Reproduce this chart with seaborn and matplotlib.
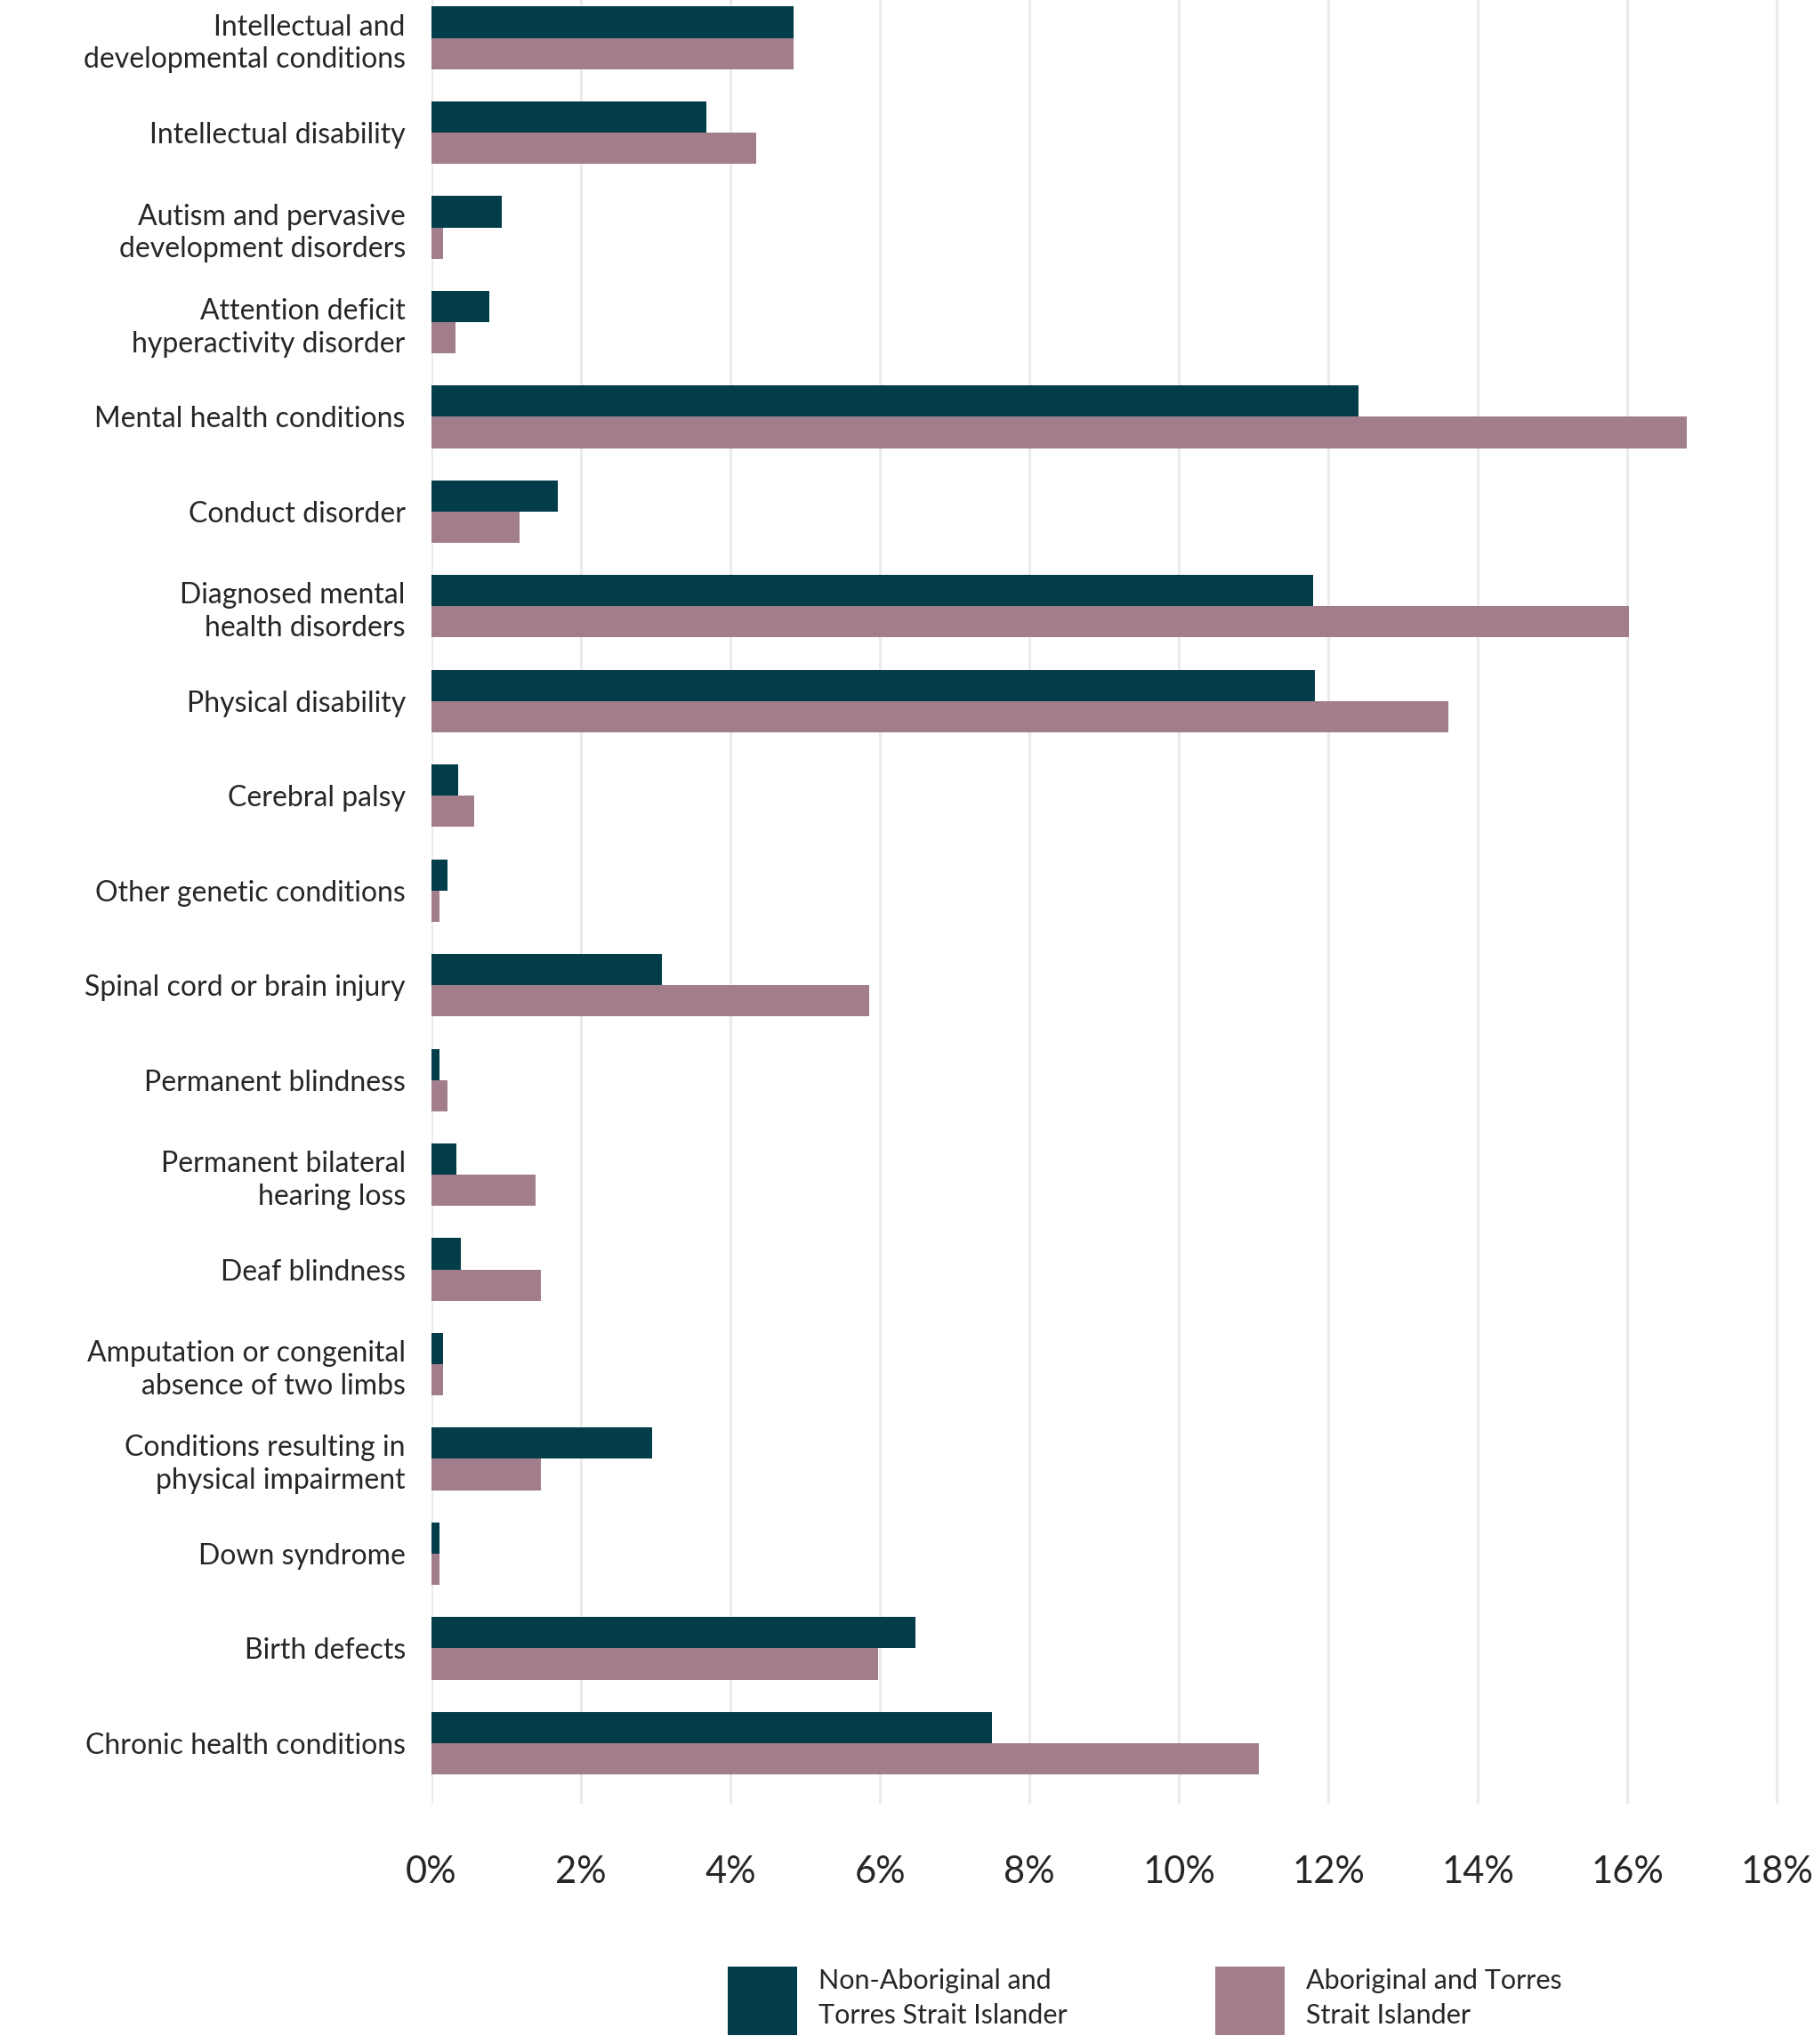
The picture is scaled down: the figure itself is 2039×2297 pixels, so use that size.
import matplotlib
matplotlib.use("Agg")
import matplotlib.pyplot as plt
import seaborn as sns
import pandas as pd
from matplotlib.patches import Patch

categories = [
    "Intellectual and\ndevelopmental conditions",
    "Intellectual disability",
    "Autism and pervasive\ndevelopment disorders",
    "Attention deficit\nhyperactivity disorder",
    "Mental health conditions",
    "Conduct disorder",
    "Diagnosed mental\nhealth disorders",
    "Physical disability",
    "Cerebral palsy",
    "Other genetic conditions",
    "Spinal cord or brain injury",
    "Permanent blindness",
    "Permanent bilateral\nhearing loss",
    "Deaf blindness",
    "Amputation or congenital\nabsence of two limbs",
    "Conditions resulting in\nphysical impairment",
    "Down syndrome",
    "Birth defects",
    "Chronic health conditions",
]
non_aboriginal = [4.85, 3.68, 0.94, 0.77, 12.40, 1.69, 11.80, 11.82, 0.36, 0.21,
                  3.08, 0.11, 0.33, 0.39, 0.16, 2.95, 0.11, 6.48, 7.50]
aboriginal = [4.85, 4.35, 0.15, 0.32, 16.80, 1.18, 16.02, 13.60, 0.57, 0.11,
              5.85, 0.21, 1.39, 1.46, 0.16, 1.46, 0.11, 5.98, 11.07]
series_names = ["Non-Aboriginal and\nTorres Strait Islander",
                "Aboriginal and Torres\nStrait Islander"]
colors = ["#033d4a", "#a27e8c"]
xticks = [0, 2, 4, 6, 8, 10, 12, 14, 16, 18]
xtick_labels = [f"{t}%" for t in xticks]

df = pd.DataFrame({
    "condition": categories * 2,
    "value": non_aboriginal + aboriginal,
    "group": [series_names[0]] * len(categories) + [series_names[1]] * len(categories),
})

sns.set_theme(style="white")
plt.rcParams["font.family"] = ["Lato", "DejaVu Sans"]

fig = plt.figure(figsize=(20.4, 22.97), dpi=100)
ax = fig.add_axes([485 / 2040, 1 - 2027 / 2297, (1999 - 485) / 2040, 2027 / 2297])

sns.barplot(data=df, y="condition", x="value", hue="group", hue_order=series_names,
            palette=colors, orient="h", width=0.66, saturation=1, linewidth=0,
            legend=False, ax=ax)

ax.set_xlim(0, 18.02)
ax.set_ylim(18.64, -0.4)
ax.set_xticks(xticks)
ax.set_xticklabels(xtick_labels, fontsize=30)
ax.tick_params(axis="x", length=0, pad=42)
ax.tick_params(axis="y", length=0, pad=21, labelsize=23)
for lab in ax.get_yticklabels():
    lab.set_linespacing(1.28)
ax.set_xlabel("")
ax.set_ylabel("")
for s in ax.spines.values():
    s.set_visible(False)
ax.grid(axis="x", color="#ebebeb", linewidth=2.2)
ax.grid(axis="y", visible=False)
ax.set_axisbelow(True)

for i, (name, col) in enumerate(zip(series_names, colors)):
    x0 = [818, 1366][i] / 2040
    leg = fig.legend(handles=[Patch(facecolor=col, edgecolor="none")], labels=[name],
                     loc="upper left", bbox_to_anchor=(x0, 1 - 2210 / 2297),
                     frameon=False, fontsize=22, handlelength=2.55, handleheight=3.5,
                     handletextpad=0.8, borderpad=0, borderaxespad=0)
    for t in leg.get_texts():
        t.set_linespacing(1.45)

fig.savefig("out.png", dpi=100)
